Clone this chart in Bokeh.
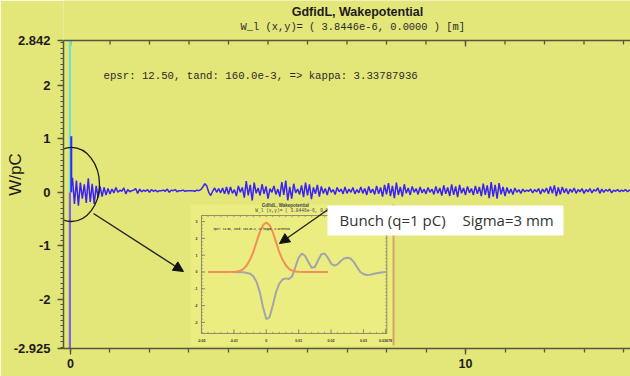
import numpy as np
from bokeh.plotting import figure
from bokeh.models import (Range1d, LinearAxis, FixedTicker, Label, BoxAnnotation,
                          Arrow, NormalHead, Span)
from bokeh.core.properties import value
from bokeh.embed import file_html
from bokeh.resources import INLINE

# ---------------- data ----------------
y_ticks = [-2.925, -2, -1, 0, 1, 2, 2.842]
y_tick_labels = ["-2.925", "-2", "-1", "0", "1", "2", "2.842"]
x_ticks = [0, 10]
x_tick_labels = ["0", "10"]
x_minor_ticks = [0, 1, 2, 3, 4, 5, 6, 7, 8, 9, 10, 11, 12, 13, 14]

# main wake potential, sampled every 0.05 from s = 0
wake_values = [
    0.0,
    0.27, -0.22, 0.22, -0.25, 0.18, -0.12, 0.15, -0.20, 0.26, -0.18, 0.16, -0.22, 0.12, -0.10, 0.11, -0.08, 0.09, -0.05, 0.07, -0.03,
    0.06, -0.01, 0.09, 0.00, 0.04, 0.02, 0.08, -0.03, 0.05, 0.01, 0.03, 0.04, 0.07, -0.02, 0.06, 0.01, 0.04, 0.02, 0.05, 0.00,
    0.05, 0.02, 0.04, 0.01, 0.03, 0.03, 0.04, 0.02, 0.06, 0.00, 0.04, 0.03, 0.05, 0.01, 0.03, 0.03, 0.04, 0.02, 0.03, 0.03,
    0.03, 0.03, 0.02, 0.04, 0.03, 0.05, 0.10, 0.16, 0.12, 0.00, -0.06, 0.02, 0.08, 0.00, 0.07, -0.01, 0.08, -0.03, 0.10, -0.04,
    0.10, -0.02, 0.05, -0.07, 0.12, 0.00, 0.09, -0.10, 0.21, -0.06, 0.14, -0.15, 0.18, -0.02, 0.08, -0.06, 0.15, -0.03, 0.11, -0.12,
    0.07, 0.00, 0.12, -0.04, 0.06, -0.08, 0.19, -0.05, 0.22, -0.15, 0.10, -0.12, 0.16, -0.01, 0.06, -0.04, 0.13, -0.09, 0.18, -0.06,
    0.15, -0.13, 0.09, -0.03, 0.14, -0.08, 0.11, -0.02, 0.07, -0.05, 0.10, 0.00, 0.05, -0.04, 0.09, 0.01, 0.06, -0.03, 0.10, -0.02,
    0.06, 0.00, 0.09, -0.03, 0.05, -0.01, 0.10, -0.02, 0.07, -0.05, 0.11, -0.01, 0.06, -0.04, 0.12, -0.03, 0.09, -0.08, 0.14, -0.04,
    0.17, -0.07, 0.12, -0.11, 0.18, -0.05, 0.10, -0.08, 0.15, -0.02, 0.08, -0.05, 0.11, 0.00, 0.07, -0.04, 0.10, -0.01, 0.06, -0.03,
    0.09, 0.00, 0.06, -0.04, 0.11, -0.02, 0.08, -0.06, 0.13, -0.03, 0.09, -0.07, 0.15, -0.05, 0.11, -0.09, 0.14, -0.02, 0.08, -0.05,
    0.11, -0.01, 0.07, -0.05, 0.12, -0.03, 0.10, -0.07, 0.16, -0.05, 0.13, -0.11, 0.19, -0.08, 0.14, -0.12, 0.17, -0.04, 0.10, -0.07,
    0.09, -0.02, 0.06, -0.04, 0.08, 0.00, 0.05, -0.02, 0.06, 0.01, 0.04, 0.02, 0.06, -0.01, 0.05, 0.01, 0.07, -0.03, 0.06, 0.00,
    0.08, -0.03, 0.11, -0.02, 0.13, -0.07, 0.09, -0.04, 0.10, -0.01, 0.07, -0.03, 0.06, 0.00, 0.08, -0.02, 0.05, 0.01, 0.07, -0.02,
    0.05, 0.01, 0.07, -0.01, 0.05, 0.02, 0.08, -0.02, 0.06, 0.00, 0.05, 0.02, 0.06, -0.01, 0.04, 0.02, 0.05, 0.01, 0.04, 0.02,
    0.05, 0.01, 0.04, 0.02,
]
wake_s = np.round(np.arange(len(wake_values)) * 0.05, 2)

# bunch (cyan) and the first spike of the wake
bunch_s = [-0.015, -0.015]
bunch_v = [0.0, 2.842]
spike_up_s = [0.02, 0.02]
spike_up_v = [0.0, 1.05]
spike_down_s = [-0.015, -0.015]
spike_down_v = [0.0, -2.925]

# inset: bunch profile (orange) and wake (gray), s in m
inset_bunch_s = [-0.018, -0.012, -0.010, -0.009, -0.008, -0.007, -0.006, -0.005, -0.004, -0.003, -0.002, -0.001,
                 0.0, 0.001, 0.002, 0.003, 0.004, 0.005, 0.006, 0.007, 0.008, 0.009, 0.010, 0.012, 0.019]
inset_bunch_v = [0.0, 0.0, 0.01, 0.03, 0.08, 0.19, 0.40, 0.74, 1.19, 1.79, 2.37, 2.79,
                 2.95, 2.79, 2.37, 1.79, 1.19, 0.74, 0.40, 0.19, 0.08, 0.03, 0.01, 0.0, 0.0]
inset_wake_s = [-0.0105, -0.007, -0.005, -0.004, -0.003, -0.002, -0.001, 0.0, 0.001, 0.002, 0.003, 0.004,
                0.005, 0.006, 0.007, 0.008, 0.009, 0.010, 0.011, 0.012, 0.013, 0.014, 0.015, 0.016, 0.017,
                0.018, 0.019, 0.020, 0.021, 0.022, 0.023, 0.024, 0.025, 0.026, 0.027, 0.028, 0.029, 0.030,
                0.031, 0.032, 0.033, 0.034, 0.035, 0.036, 0.0368]
inset_wake_v = [0.0, -0.02, -0.10, -0.25, -0.60, -1.20, -2.10, -2.80, -2.70, -2.00, -1.20, -0.70,
                -0.45, -0.38, -0.42, -0.25, 0.30, 0.85, 1.10, 0.95, 0.60, 0.25, 0.30, 0.70, 1.05,
                1.10, 0.85, 0.50, 0.38, 0.45, 0.65, 0.80, 0.85, 0.80, 0.60, 0.30, 0.00, -0.12,
                -0.18, -0.17, -0.12, -0.08, -0.05, -0.02, 0.0]
inset_xticks = [-0.02, -0.01, 0.0, 0.01, 0.02, 0.03, 0.03678]
inset_xlabels = ["-0.02", "-0.01", "0", "0.01", "0.02", "0.03", "0.03678"]
inset_yticks = [-3, -2, -1, 0, 1, 2, 3]
inset_ylabels = ["-3", "-2", "-1", "0", "1", "2", "3"]

title_text = "GdfidL, Wakepotential"
subtitle_text = "W_l (x,y)= ( 3.8446e-6, 0.0000 ) [m]"
note_text = "epsr: 12.50, tand: 160.0e-3, => kappa: 3.33787936"
box_text1 = "Bunch (q=1 pC)"
box_text2 = "Sigma=3 mm"
y_label = "W/pC"

# ---------------- style ----------------
BG = "#e3e679"
INSET_BG = "#ebed80"
AX = "#56563e"
BLUE = "#3a22f2"
CYAN = "#66e4d8"
PURPLE = "#7a66e6"
ORANGE = "#f28f58"
GRAY = "#a4a4ac"
SANS = "Liberation Sans"
MONO = "Liberation Mono"
W, H = 630, 376
Y_TOP, Y_BOT = 2.842, -2.925
PX_Y = 308 / (Y_TOP - Y_BOT)        # pixels per y unit (frame 40..348 for the axis range)
Y_END = Y_TOP + 40 / PX_Y           # frame reaches the top of the canvas (room for titles)

p = figure(width=W, height=H, x_range=Range1d(-0.177, 14.177), y_range=Range1d(Y_BOT, Y_END),
           x_axis_type=None, y_axis_type=None, output_backend="svg", toolbar_location=None,
           min_border_left=63, min_border_right=0, min_border_top=0, min_border_bottom=28,
           background_fill_color=BG, border_fill_color=BG, outline_line_color=None)

y_minor = [round(v * 0.1, 1) for v in range(-29, 29)]
left = LinearAxis(ticker=FixedTicker(ticks=y_ticks, minor_ticks=y_minor), bounds=(Y_BOT, Y_TOP),
                  major_label_overrides=dict(zip(y_ticks, y_tick_labels)),
                  axis_line_color=AX, axis_line_width=1.5,
                  major_tick_line_color=AX, major_tick_line_width=1.3, major_tick_out=6, major_tick_in=0,
                  minor_tick_line_color=AX, minor_tick_line_width=1, minor_tick_out=3, minor_tick_in=0,
                  major_label_standoff=7, major_label_text_font=SANS, major_label_text_font_style="bold",
                  major_label_text_font_size="13px", major_label_text_color="#1c1c1c",
                  axis_label=y_label, axis_label_standoff=-14, axis_label_text_font=SANS,
                  axis_label_text_font_style="normal", axis_label_text_font_size="17px",
                  axis_label_text_color="#1c1c1c")
p.add_layout(left, "left")

below = LinearAxis(ticker=FixedTicker(ticks=x_ticks, minor_ticks=x_minor_ticks),
                   major_label_overrides=dict(zip(x_ticks, x_tick_labels)),
                   axis_line_color=AX, axis_line_width=1.5,
                   major_tick_line_color=AX, major_tick_line_width=1.3, major_tick_out=6, major_tick_in=0,
                   minor_tick_line_color=AX, minor_tick_line_width=1.3, minor_tick_out=4, minor_tick_in=0,
                   major_label_standoff=4, major_label_text_font=SANS, major_label_text_font_style="bold",
                   major_label_text_font_size="12.5px", major_label_text_color="#1c1c1c")
p.add_layout(below, "below")

# top frame line with inward ticks
p.add_layout(Span(location=Y_TOP, dimension="width", line_color=AX, line_width=1.5))
p.segment(x0=x_minor_ticks, y0=[Y_TOP] * len(x_minor_ticks), x1=x_minor_ticks,
          y1=[Y_TOP - 4 / PX_Y] * len(x_minor_ticks), line_color=AX, line_width=1.3)
p.segment(x0=x_ticks, y0=[Y_TOP] * len(x_ticks), x1=x_ticks,
          y1=[Y_TOP - 6 / PX_Y] * len(x_ticks), line_color=AX, line_width=1.3)

# main curves
p.line(wake_s, wake_values, line_color=BLUE, line_width=1.5)
p.line(spike_down_s, spike_down_v, line_color=PURPLE, line_width=2.2)
p.line(bunch_s, bunch_v, line_color=CYAN, line_width=2.2)
p.line(spike_up_s, spike_up_v, line_color=BLUE, line_width=2)

# inset picture
inset_box = dict(left=3.038, right=8.177, top=-0.229, bottom=-2.868)
p.add_layout(BoxAnnotation(level="underlay", fill_color=INSET_BG, fill_alpha=1, line_color=None, **inset_box))
p.segment(x0=[inset_box["right"]], y0=[inset_box["top"]], x1=[inset_box["right"]], y1=[inset_box["bottom"]],
          line_color="#d9a468", line_width=2)

xy = p.subplot(x_source=Range1d(-0.02, 0.0368), y_source=Range1d(-3.66, 3.36),
               x_target=Range1d(3.3165, 7.9747), y_target=Range1d(-2.644, -0.435))
ix0, ix1, iy0, iy1 = -0.02, 0.0372, -3.66, 3.36
IAX = "#85856a"
xy.multi_line(xs=[[ix0, ix1, ix1, ix0, ix0]], ys=[[iy0, iy0, iy1, iy1, iy0]], line_color=IAX, line_width=0.9)
mx = np.round(np.arange(-0.02, 0.0369, 0.002), 4)
xy.segment(x0=mx, y0=[iy0] * len(mx), x1=mx, y1=[iy0 + 0.1] * len(mx), line_color=IAX, line_width=0.7)
xy.segment(x0=mx, y0=[iy1] * len(mx), x1=mx, y1=[iy1 - 0.1] * len(mx), line_color=IAX, line_width=0.7)
my = np.round(np.arange(-3.6, 3.4, 0.2), 2)
xy.segment(x0=[ix0] * len(my), y0=my, x1=[ix0 + 0.0005] * len(my), y1=my, line_color=IAX, line_width=0.7)
xy.segment(x0=[ix1] * len(my), y0=my, x1=[ix1 - 0.0005] * len(my), y1=my, line_color=IAX, line_width=0.7)
xy.segment(x0=inset_xticks, y0=[iy0] * 7, x1=inset_xticks, y1=[iy0 + 0.25] * 7, line_color=IAX, line_width=0.9)
xy.segment(x0=[ix0] * 7, y0=inset_yticks, x1=[ix0 + 0.0011] * 7, y1=inset_yticks, line_color=IAX, line_width=0.9)
xy.text(x=inset_xticks, y=[iy0 - 0.42] * 7, text=inset_xlabels, text_align="center", text_baseline="middle",
        text_font=value(SANS), text_font_style="bold", text_font_size=value("3.6px"), text_color="#333333")
xy.text(x=[ix0 - 0.0012] * 7, y=inset_yticks, text=inset_ylabels, text_align="right", text_baseline="middle",
        text_font=value(SANS), text_font_style="bold", text_font_size=value("3.6px"), text_color="#333333")
xy.line(inset_wake_s, inset_wake_v, line_color=GRAY, line_width=2)
xy.line(inset_bunch_s, inset_bunch_v, line_color=ORANGE, line_width=2)

p.add_layout(Label(x=5.44, y=-0.25, text=title_text, text_align="center", text_baseline="middle",
                   text_font=SANS, text_font_style="bold", text_font_size="4.5px", text_color="#444444"))
p.add_layout(Label(x=4.68, y=-0.345, text=subtitle_text, text_align="left", text_baseline="middle",
                   text_font=MONO, text_font_size="4.5px", text_color="#444444"))
p.add_layout(Label(x=3.62, y=-0.70, text=note_text, text_align="left", text_baseline="middle",
                   text_font=MONO, text_font_style="bold", text_font_size="2.6px", text_color="#444444"))

# annotations: ellipse, arrows, white label box
p.ellipse(x=[0.025], y=[0.146], width=[1.418], height=[1.386], fill_color=None,
          line_color="#1a1a1a", line_width=1.3)
p.add_layout(Arrow(end=NormalHead(size=10, fill_color="#111111", line_color="#111111"),
                   x_start=0.582, y_start=-0.397, x_end=2.861, y_end=-1.483,
                   line_color="#222222", line_width=1.4))
p.add_layout(Arrow(end=NormalHead(size=10, fill_color="#111111", line_color="#111111"),
                   x_start=6.557, y_start=-0.303, x_end=5.291, y_end=-0.959,
                   line_color="#222222", line_width=1.4))
p.add_layout(BoxAnnotation(left=6.506, right=12.48, top=-0.247, bottom=-0.809,
                           fill_color="white", fill_alpha=1, line_color=None))
p.add_layout(Label(x=6.81, y=-0.528, text=box_text1, text_align="left", text_baseline="middle",
                   text_font="Open Sans", text_font_size="15px", text_color="#333333"))
p.add_layout(Label(x=9.924, y=-0.528, text=box_text2, text_align="left", text_baseline="middle",
                   text_font="Open Sans", text_font_size="15px", text_color="#333333"))

# titles and the parameter note (inside the frame, above the axis range)
p.add_layout(Label(x=7.266, y=Y_TOP + 29 / PX_Y, text=title_text,
                   text_align="center", text_baseline="middle", text_font=SANS, text_font_style="bold",
                   text_font_size="12.5px", text_color="#1c1c1c"))
p.add_layout(Label(x=4.304, y=Y_TOP + 14 / PX_Y, text=subtitle_text,
                   text_align="left", text_baseline="middle", text_font=MONO,
                   text_font_size="10.4px", text_color="#2a2a2a"))
p.add_layout(Label(x=0.835, y=Y_TOP - 35 / PX_Y, text=note_text,
                   text_align="left", text_baseline="middle", text_font=MONO,
                   text_font_size="10.7px", text_color="#2a2a2a"))

open("out.html", "w").write(file_html(p, INLINE))
